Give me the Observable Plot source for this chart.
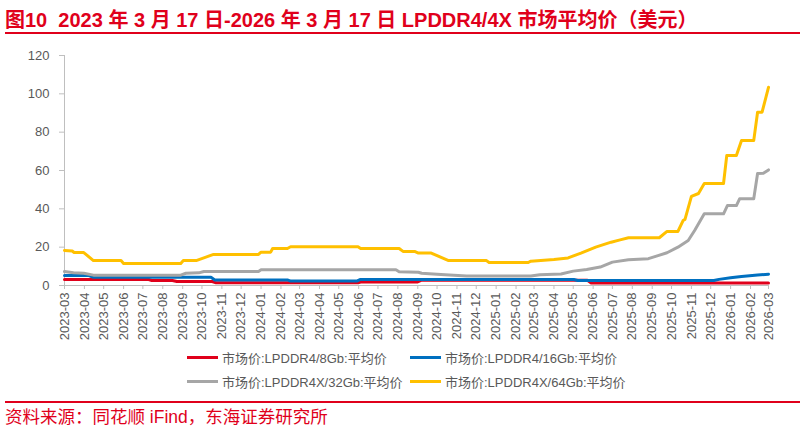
<!DOCTYPE html>
<html><head><meta charset="utf-8">
<script src="https://cdn.jsdelivr.net/npm/d3@7"></script>
<script src="https://cdn.jsdelivr.net/npm/@observablehq/plot@0.6"></script>
<style>
body{margin:0;background:#fff;width:805px;height:431px;position:relative;overflow:hidden;font-family:"Liberation Sans","Noto Sans CJK SC",sans-serif;}
#title{position:absolute;left:5px;top:4px;font-size:20px;font-weight:bold;color:#e0001b;white-space:nowrap;}
.rule{position:absolute;left:5px;width:795px;height:2px;background:#e0001b;}
#chart{position:absolute;left:0;top:40px;}
#legend{position:absolute;left:0;top:0;width:805px;font-size:13px;color:#595959;}
.item{position:absolute;display:flex;align-items:center;white-space:nowrap;height:16px}
.sw{width:31px;height:3px;margin-right:4px}
#source{position:absolute;left:5px;top:403px;font-size:17.5px;color:#e0001b;white-space:nowrap;}
</style></head>
<body>
<div id="title">图10&nbsp; 2023 年 3 月 17 日-2026 年 3 月 17 日 LPDDR4/4X 市场平均价（美元）</div>
<div class="rule" style="top:32px"></div>
<div id="chart"></div>
<div id="legend"></div>
<div class="rule" style="top:401px"></div>
<div id="source">资料来源：同花顺 iFind，东海证券研究所</div>
<script>
// ---- data ----
const seriesNames = ["市场价:LPDDR4/8Gb:平均价", "市场价:LPDDR4/16Gb:平均价", "市场价:LPDDR4X/32Gb:平均价", "市场价:LPDDR4X/64Gb:平均价"];
const seriesColors = ["#e0001b", "#0070c0", "#a6a6a6", "#ffc000"];

const lpddr4_8Gb = [
  ["2023-03-17",3.1],["2023-07-26",3.1],["2023-07-31",2.6],["2023-09-01",2.6],["2023-09-08",2.1],
  ["2023-11-02",2.1],["2023-11-08",1.4],["2024-06-16",1.4],["2024-06-20",1.8],["2024-09-16",1.8],
  ["2024-09-22",2.7],["2025-06-08",2.7],["2025-06-14",1.3],["2026-03-17",1.3]
];
const lpddr4_16Gb = [
  ["2023-03-17",5.2],["2023-04-24",5.2],["2023-05-01",4.3],["2023-10-31",4.3],["2023-11-06",2.9],
  ["2024-02-27",2.9],["2024-03-03",2.3],["2024-06-14",2.3],["2024-06-19",3.1],["2025-05-18",3.1],
  ["2025-05-24",2.6],["2025-12-22",2.6],["2025-12-30",3.2],["2026-01-17",4.0],["2026-02-03",4.7],
  ["2026-02-28",5.5],["2026-03-17",5.9]
];
const lpddr4x_32Gb = [
  ["2023-03-17",7.3],["2023-03-31",6.6],["2023-04-16",6.4],["2023-05-01",5.4],["2023-09-14",5.4],
  ["2023-09-22",6.4],["2023-10-12",6.6],["2023-10-20",7.3],["2024-01-13",7.3],["2024-01-17",8.2],
  ["2024-08-14",8.2],["2024-08-19",7.2],["2024-09-18",6.9],["2024-09-23",6.4],["2024-10-23",5.7],
  ["2024-12-02",4.9],["2025-03-12",4.9],["2025-03-26",5.6],["2025-04-28",6.0],["2025-05-17",7.5],
  ["2025-06-07",8.3],["2025-06-28",9.6],["2025-07-17",12.2],["2025-08-11",13.4],["2025-09-11",14.0],
  ["2025-09-26",15.6],["2025-10-10",17.1],["2025-10-27",20.0],["2025-11-12",23.5],["2025-11-22",28.7],
  ["2025-12-07",37.4],["2026-01-06",37.4],["2026-01-12",41.7],["2026-01-26",41.7],["2026-01-31",45.2],
  ["2026-02-22",45.2],["2026-02-28",58.4],["2026-03-09",58.6],["2026-03-17",60.3]
];
const lpddr4x_64Gb = [
  ["2023-03-17",18.3],["2023-03-29",18.0],["2023-04-01",17.2],["2023-04-16",17.2],["2023-05-01",13.0],
  ["2023-06-13",13.0],["2023-06-17",11.5],["2023-09-14",11.5],["2023-09-18",13.0],["2023-10-08",13.0],
  ["2023-11-04",16.2],["2024-01-13",16.2],["2024-01-17",17.4],["2024-02-01",17.4],["2024-02-04",19.3],
  ["2024-02-27",19.3],["2024-03-03",20.2],["2024-06-16",20.2],["2024-06-20",19.3],["2024-08-19",19.3],
  ["2024-08-25",17.8],["2024-09-12",17.8],["2024-09-18",16.9],["2024-10-08",16.9],["2024-11-04",13.0],
  ["2025-01-02",13.0],["2025-01-06",12.0],["2025-03-08",12.0],["2025-03-12",12.7],["2025-04-17",13.6],
  ["2025-05-09",14.4],["2025-05-29",16.9],["2025-06-21",20.0],["2025-07-15",22.6],["2025-07-29",23.8],
  ["2025-08-11",24.9],["2025-09-28",24.9],["2025-10-10",28.2],["2025-10-27",28.2],["2025-11-04",33.9],
  ["2025-11-07",34.5],["2025-11-17",46.5],["2025-11-28",48.0],["2025-12-07",53.2],["2026-01-06",53.2],
  ["2026-01-11",67.8],["2026-01-26",67.8],["2026-02-03",75.6],["2026-02-22",75.6],["2026-02-28",90.4],
  ["2026-03-07",90.4],["2026-03-17",103.4]
];
const monthLabels = ["2023-03","2023-04","2023-05","2023-06","2023-07","2023-08","2023-09","2023-10","2023-11","2023-12",
  "2024-01","2024-02","2024-03","2024-04","2024-05","2024-06","2024-07","2024-08","2024-09","2024-10","2024-11","2024-12",
  "2025-01","2025-02","2025-03","2025-04","2025-05","2025-06","2025-07","2025-08","2025-09","2025-10","2025-11","2025-12",
  "2026-01","2026-02","2026-03"];
const yTicks = [0,20,40,60,80,100,120];

// ---- chart ----
const allSeries = [lpddr4_8Gb, lpddr4_16Gb, lpddr4x_32Gb, lpddr4x_64Gb];
const rows = allSeries.map((s, i) => s.map(([d, v]) => ({date: new Date(d), value: v, series: seriesNames[i]})));
const tickDates = monthLabels.map(m => new Date(m + "-17"));
const fmt = d3.utcFormat("%Y-%m");
const font = '"Liberation Sans","Noto Sans CJK SC",sans-serif';

const chart = Plot.plot({
  width: 805, height: 310,
  marginTop: 15, marginBottom: 65, marginLeft: 64, marginRight: 37,
  style: {fontFamily: font, fontSize: "12px", color: "#595959", background: "transparent", overflow: "visible"},
  x: {type: "utc", domain: [tickDates[0], tickDates[tickDates.length - 1]]},
  y: {domain: [0, 120]},
  marks: [
    Plot.axisY({ticks: yTicks, tickSize: 5, tickPadding: 10, stroke: "#bfbfbf", fill: "#595959", fontSize: 13, label: null}),
    Plot.axisX({ticks: tickDates, tickFormat: fmt, tickRotate: -90, tickSize: 4, tickPadding: 3, stroke: "#bfbfbf", fill: "#595959", fontSize: 13, label: null}),
    Plot.ruleX([tickDates[0]], {stroke: "#bfbfbf"}),
    Plot.ruleY([0], {stroke: "#bfbfbf"}),
    ...rows.map((r, i) => Plot.line(r, {x: "date", y: "value", stroke: seriesColors[i], strokeWidth: 3, strokeLinejoin: "round"}))
  ]
});
document.getElementById("chart").appendChild(chart);

// ---- legend ----
const legendPos = [[187, 349], [410, 349], [187, 373], [410, 373]];
const legend = document.getElementById("legend");
seriesNames.forEach((n, i) => {
  const it = document.createElement("div");
  it.className = "item";
  it.style.left = legendPos[i][0] + "px";
  it.style.top = legendPos[i][1] + "px";
  it.innerHTML = `<span class="sw" style="background:${seriesColors[i]}"></span><span>${n}</span>`;
  legend.appendChild(it);
});
</script>
</body></html>
